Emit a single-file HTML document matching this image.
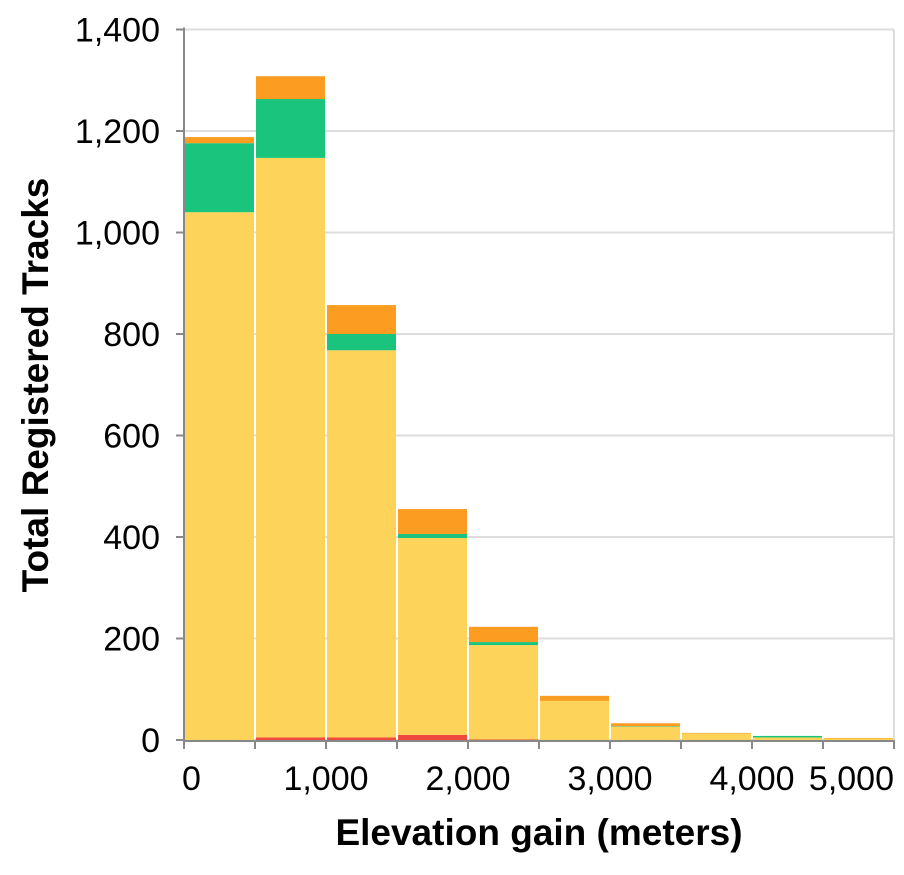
<!DOCTYPE html>
<html><head><meta charset="utf-8"><style>
body{margin:0;background:#fff;font-family:"Liberation Sans",Arial,sans-serif}
</style></head><body>
<svg id="chart" width="904" height="870" xmlns="http://www.w3.org/2000/svg"></svg>
<script>
const binStarts=[0,500,1000,1500,2000,2500,3000,3500,4000,4500];
const binWidth=500;
const redVals=[0,5,5,10,1,0,0,0,0,0];
const yellowVals=[1040,1142,763,388,186,77,26,13,5,3];
const greenVals=[136,116,32,8,6,0,1,0,3,0];
const orangeVals=[12,45,57,49,30,10,6,1,0,1];
const yTicks=[0,200,400,600,800,1000,1200,1400];
const xTicks=[0,1000,2000,3000,4000,5000];
const series=[["red",redVals,"#f04a3e"],["yellow",yellowVals,"#fdd35a"],["green",greenVals,"#1bc47d"],["orange",orangeVals,"#fc9d22"]];
const NS="http://www.w3.org/2000/svg";
const svg=document.getElementById('chart');
const X0=184,X1=894,Y0=740,Y1=29.5;
const xs=v=>X0+(v/5000)*(X1-X0);
const ys=v=>Y0-(v/1400)*(Y0-Y1);
function mk(t,a,p){const e=document.createElementNS(NS,t);for(const k in a)e.setAttribute(k,a[k]);(p||svg).appendChild(e);return e;}
const fmt=v=>v.toLocaleString('en-US');
yTicks.forEach(t=>{
 const g=mk('line',{x1:X0,x2:X1,y1:ys(t),y2:ys(t),stroke:'#ddd','stroke-width':2});
 
 
 const tk=mk('line',{x1:X0-8,x2:X0,y1:ys(t),y2:ys(t),stroke:'#888','stroke-width':2});
 
 
 const tx=mk('text',{x:X0-24,y:ys(t)+12,'text-anchor':'end','font-size':34,fill:'#000'});
 tx.textContent=fmt(t);
 
 
});
const gv=mk('line',{x1:X1,x2:X1,y1:Y1,y2:Y0,stroke:'#ddd','stroke-width':2});


binStarts.forEach((b,i)=>{
 let acc=0;
 series.forEach(([nm,vals,col])=>{
  const v=vals[i];
  if(v>0){
   const r=mk('rect',{x:xs(b)+1,width:xs(b+binWidth)-xs(b)-2,y:ys(acc+v),height:ys(acc)-ys(acc+v),fill:col});
   
   
  }
  acc+=v;
 });
});
const ax=mk('line',{x1:X0,x2:X1,y1:Y0+1,y2:Y0+1,stroke:'#888','stroke-width':2});


const ay=mk('line',{x1:X0,x2:X0,y1:Y1-2,y2:Y0+1,stroke:'#888','stroke-width':2});


binStarts.concat([5000]).forEach(b=>{
 const t=mk('line',{x1:xs(b),x2:xs(b),y1:Y0,y2:Y0+9,stroke:'#888','stroke-width':2});
 
 
});
xTicks.forEach((t,i)=>{
 const anchor=i===0?'start':(i===xTicks.length-1?'end':'middle');
 const tx=mk('text',{x:i===0?xs(t)-2:xs(t),y:Y0+50,'text-anchor':anchor,'font-size':34,fill:'#000'});
 tx.textContent=fmt(t);
 
 
});
const xt=mk('text',{x:539,y:845,'text-anchor':'middle','font-size':37,'font-weight':'bold'});
xt.textContent='Elevation gain (meters)';


const yt=mk('text',{x:0,y:0,'text-anchor':'middle','font-size':37,'font-weight':'bold',transform:'translate(48,385) rotate(-90)'});
yt.textContent='Total Registered Tracks';


</script>
</body></html>
